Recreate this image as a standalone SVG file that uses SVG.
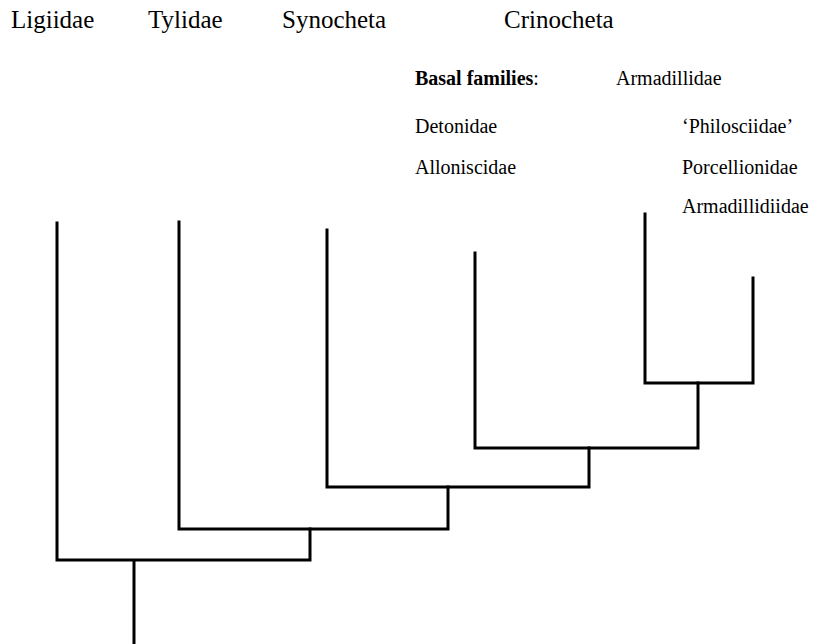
<svg xmlns="http://www.w3.org/2000/svg" width="813" height="644" viewBox="0 0 813 644">
<style>
.t{font-family:"Liberation Serif","Times New Roman",serif;fill:#000}
.big{font-size:25px}
.sm{font-size:20px}
.b{font-weight:bold}
.br{fill:none;stroke:#000;stroke-width:3;stroke-linecap:square}
</style>
<rect width="813" height="644" fill="#fff"/>
<g id="labels">
<text id="ligiidae" class="t big" x="11" y="28">Ligiidae</text>
<text id="tylidae" class="t big" x="148" y="28">Tylidae</text>
<text id="synocheta" class="t big" x="282" y="28">Synocheta</text>
<text id="crinocheta" class="t big" x="504" y="28">Crinocheta</text>
<text id="basal" class="t sm" x="415" y="85"><tspan class="b">Basal families</tspan>:</text>
<text id="armadillidae" class="t sm" x="616" y="85">Armadillidae</text>
<text id="detonidae" class="t sm" x="415" y="133">Detonidae</text>
<text id="alloniscidae" class="t sm" x="415" y="174">Alloniscidae</text>
<text id="philosciidae" class="t sm" x="682" y="133">‘Philosciidae’</text>
<text id="porcellionidae" class="t sm" x="682" y="174">Porcellionidae</text>
<text id="armadillidiidae" class="t sm" x="682" y="213">Armadillidiidae</text>
</g>
<g id="connectors">
<path class="br" d="M57 223 V560 H310 V529"/>
<path class="br" d="M179 222 V529 H448 V487"/>
<path class="br" d="M327 230 V487 H589 V448"/>
<path class="br" d="M475 253 V448 H698 V383"/>
<path class="br" d="M645 214 V383 H753 V278"/>
<path class="br" d="M134 561 V644"/>
</g>
</svg>
